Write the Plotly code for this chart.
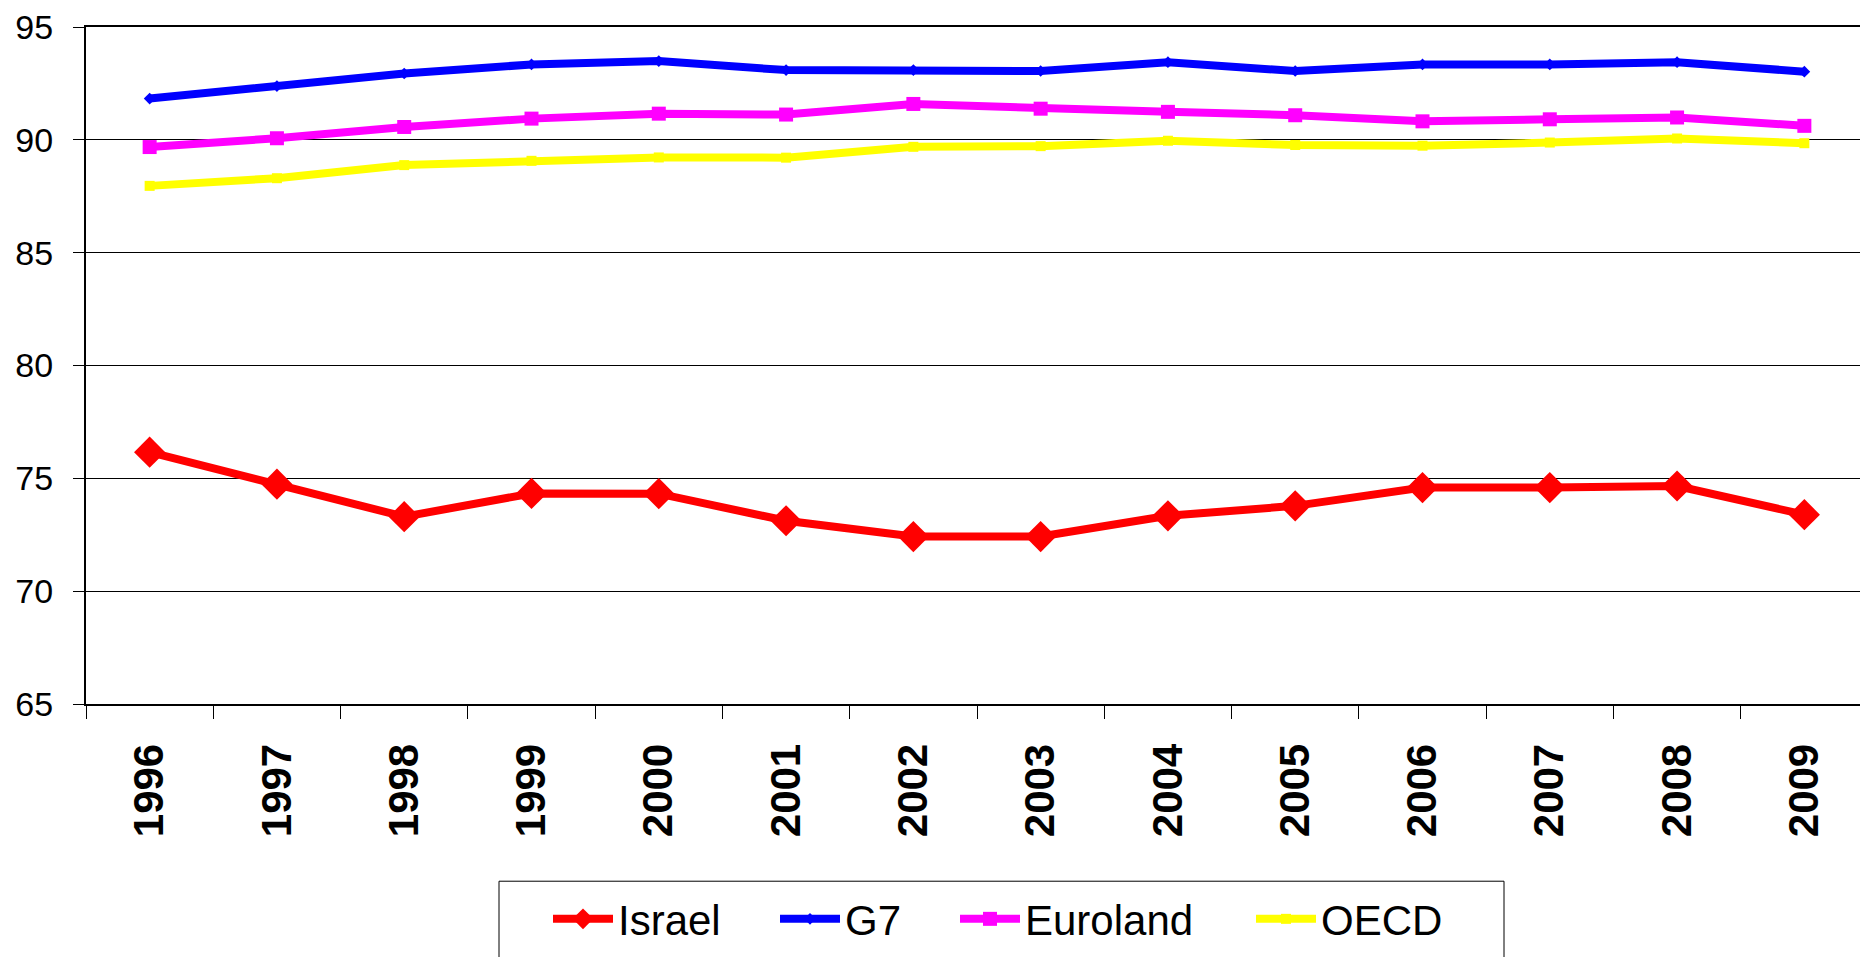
import plotly.graph_objects as go

years = [str(y) for y in range(1996, 2010)]

israel = [76.16, 74.74, 73.30, 74.33, 74.32, 73.12, 72.42, 72.42, 73.34, 73.78, 74.59, 74.59, 74.66, 73.39]
g7 = [91.83, 92.38, 92.94, 93.34, 93.49, 93.09, 93.09, 93.05, 93.44, 93.05, 93.34, 93.34, 93.44, 93.02]
euroland = [89.68, 90.07, 90.57, 90.94, 91.16, 91.12, 91.59, 91.38, 91.24, 91.09, 90.82, 90.91, 90.99, 90.62]
oecd = [87.96, 88.30, 88.88, 89.07, 89.22, 89.21, 89.69, 89.72, 89.96, 89.77, 89.74, 89.88, 90.06, 89.85]

FONT = "Liberation Sans, Arial, sans-serif"

# plot area in figure pixels (page has an 8px body margin)
L, T, PW, PH = 78, 16, 1782, 680
W, H = L + PW, 949


def px_x(page_x):
    return (page_x - 8 - L) / PW


def px_y(page_y):
    return (T + PH - (page_y - 8)) / PH


fig = go.Figure()

# name, values, colour, marker symbol, marker size, legend id, text start (page px)
series = [
    ("Israel", israel, "#FF0000", "diamond", 24, "legend", 620),
    ("G7", g7, "#0000FF", "diamond", 9, "legend2", 847),
    ("Euroland", euroland, "#FF00FF", "square", 14, "legend3", 1027),
    ("OECD", oecd, "#FFFF00", "square", 10, "legend4", 1323),
]
legends = {}
for name, vals, col, sym, size, leg, tx in series:
    fig.add_trace(go.Scatter(
        x=years, y=vals, name=name, mode="lines+markers",
        line=dict(color=col, width=8),
        marker=dict(color=col, symbol=sym, size=size, line=dict(width=0)),
        legend=leg,
    ))
    legends[leg] = dict(
        orientation="h",
        x=px_x(tx - 72), xanchor="left",
        y=px_y(920), yanchor="middle",
        font=dict(size=42, family=FONT, color="black"),
        borderwidth=0, bgcolor="rgba(0,0,0,0)",
        itemwidth=60,
    )

fig.update_layout(
    width=W, height=H,
    margin=dict(l=L, r=0, t=T, b=H - T - PH),
    paper_bgcolor="white", plot_bgcolor="white",
    font=dict(family=FONT, color="black"),
    showlegend=True,
    **legends,
)

# legend frame
fig.add_shape(type="rect", xref="paper", yref="paper",
              x0=px_x(499), x1=px_x(1504), y0=px_y(882), y1=px_y(1010),
              line=dict(color="black", width=1), fillcolor="rgba(0,0,0,0)",
              layer="below")

fig.update_xaxes(
    type="category",
    tickson="boundaries",
    ticks="outside", ticklen=13, tickwidth=1, tickcolor="black",
    tickangle=-90,
    tickfont=dict(size=42, family=FONT, color="black", weight="bold"),
    ticklabelstandoff=21,
    showline=True, linecolor="black", linewidth=2, mirror=True,
    showgrid=False,
    range=[-0.5, 13.5],
)

fig.update_yaxes(
    range=[65, 95], dtick=5, tick0=65,
    ticks="outside", ticklen=11, tickwidth=1, tickcolor="black",
    tickfont=dict(size=34, family=FONT, color="black"),
    ticklabelstandoff=13,
    ticklabeloverflow="allow",
    showline=True, linecolor="black", linewidth=2,
    showgrid=True, gridcolor="black", gridwidth=1,
    zeroline=False,
)

fig.write_html("out.html")
